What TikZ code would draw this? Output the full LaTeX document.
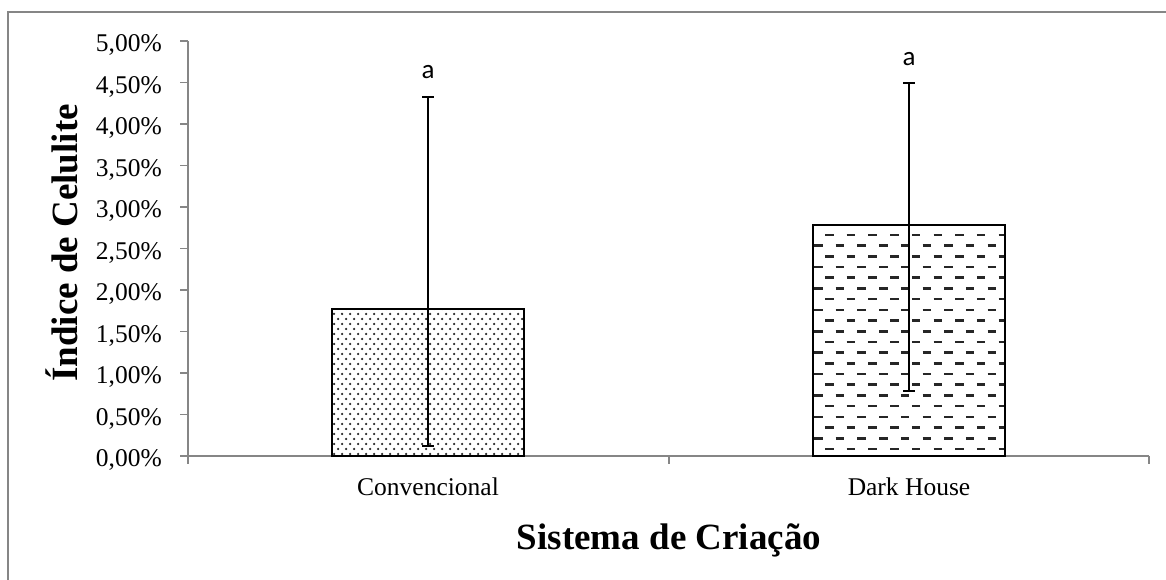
\documentclass[tikz,border=0pt]{standalone}
\usepackage{fontspec}
\setmainfont{Liberation Serif}
\newfontfamily\calibrifont{Carlito}
\usepackage{xcolor}
\usepackage{tikz}
\usetikzlibrary{positioning}
\definecolor{axisgray}{RGB}{134,134,134}
\tikzstyle{axis_line}=[draw=axisgray, line width=1.6pt]
\tikzstyle{bar_box}=[draw=black, line width=1.8pt]
\tikzstyle{err_bar}=[draw=black, line width=1.5pt]
\tikzstyle{dash_fill}=[draw=black!85, line width=2.6pt]
\tikzstyle{tick_label}=[anchor=base east, inner sep=0pt, font=\fontsize{25.5}{25.5}\selectfont]
\tikzstyle{cat_label}=[anchor=base, inner sep=0pt, font=\fontsize{25.5}{25.5}\selectfont]
\tikzstyle{sig_label}=[inner sep=0pt, font=\calibrifont\fontsize{27}{27}\selectfont]
\tikzstyle{axis_title}=[anchor=base, inner sep=0pt, font=\bfseries\fontsize{37}{37}\selectfont]

\begin{document}
\begin{tikzpicture}[x=1pt, y=1pt]
        \useasboundingbox (0,0) rectangle (1166,580);
        %Frame
        \draw [style=axis_line] (8,-5) -- (8,568) -- (1172,568);

        %Axes
        \coordinate (O) at (188,124);
        \draw [style=axis_line] (O) -- (188,539);
        \draw [style=axis_line] (O) -- (1149,124);
        \foreach \i/\lab in {0/{0,00\%},1/{0,50\%},2/{1,00\%},3/{1,50\%},4/{2,00\%},5/{2,50\%},6/{3,00\%},7/{3,50\%},8/{4,00\%},9/{4,50\%},10/{5,00\%}} {
            \draw [style=axis_line] (180,{124+\i*41.5}) -- (188,{124+\i*41.5});
            \node [style=tick_label] (yl\i) at (162,{113+\i*41.5}) {\lab};
        }
        \foreach \x in {188,669,1149} {
            \draw [style=axis_line] (\x,124) -- (\x,116);
        }

        %Bar 1
        \begin{scope}
            \clip (332,124) rectangle (524,271);
            \foreach \r in {0,...,29} {
                \foreach \c in {0,...,24} {
                    \fill [black!85] ({334+\c*8+mod(\r,2)*4},{126+\r*5}) circle (1.25pt);
                }
            }
        \end{scope}
        \draw [style=bar_box] (332,124) rectangle (524,271);

        %Bar 2
        \begin{scope}
            \clip (813,124) rectangle (1005,355);
            \foreach \r in {0,...,20} {
                \foreach \c in {0,...,9} {
                    \draw [style=dash_fill] ({825-mod(\r,2)*11+\c*21.7},{131+\r*10.7}) -- ++(8.5,0);
                }
            }
        \end{scope}
        \draw [style=bar_box] (813,124) rectangle (1005,355);

        %Error bars
        \coordinate (e1b) at (428,134);
        \coordinate (e1t) at (428,483);
        \coordinate (e2b) at (909,189);
        \coordinate (e2t) at (909,497);
        \draw [style=err_bar] (e1b) -- (e1t);
        \draw [style=err_bar] ([xshift=-6pt]e1b) -- ([xshift=6pt]e1b);
        \draw [style=err_bar] ([xshift=-6pt]e1t) -- ([xshift=6pt]e1t);
        \draw [style=err_bar] (e2b) -- (e2t);
        \draw [style=err_bar] ([xshift=-6pt]e2b) -- ([xshift=6pt]e2b);
        \draw [style=err_bar] ([xshift=-6pt]e2t) -- ([xshift=6pt]e2t);
        \node [style=sig_label] (a1) at (428,508) {a};
        \node [style=sig_label] (a2) at (909,520.5) {a};

        %Labels
        \node [style=cat_label] (conv) at (428,84) {Convencional};
        \node [style=cat_label] (dark) at (909,84) {Dark House};
        \node [style=axis_title] (xtitle) at (669,30) {Sistema de Criação};
        \node [style=axis_title, rotate=90] (ytitle) at (77,337) {Índice de Celulite};
\end{tikzpicture}
\end{document}
